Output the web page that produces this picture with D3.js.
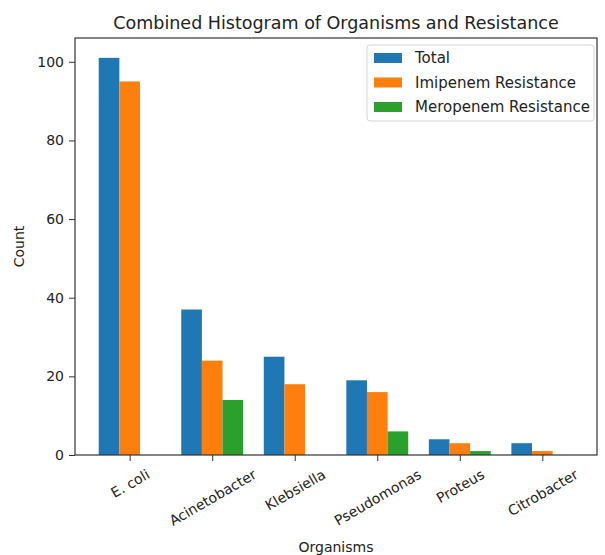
<!DOCTYPE html>
<html><head><meta charset="utf-8">
<script src="https://cdn.jsdelivr.net/npm/d3@7"></script>
<style>body{margin:0;background:#fff}text{font-family:"DejaVu Sans",sans-serif;fill:#222}</style>
</head><body>
<svg id="c" width="605" height="555"></svg>
<script>
const organisms = ["E. coli","Acinetobacter","Klebsiella","Pseudomonas","Proteus","Citrobacter"];
const totalCounts = [101,37,25,19,4,3];
const imipenemCounts = [95,24,18,16,3,1];
const meropenemCounts = [0,14,0,6,1,0];
const seriesNames = ["Total","Imipenem Resistance","Meropenem Resistance"];
const seriesColors = ["#1f77b4","#ff7f0e","#2ca02c"];
const yTicks = [0,20,40,60,80,100];

const series = [totalCounts, imipenemCounts, meropenemCounts];
const svg = d3.select("#c");
const L = 75, R = 597, T = 38, B = 455;
const barW = 0.25;
const x = d3.scaleLinear().domain([-0.6625, 5.6625]).range([L, R]);
const y = d3.scaleLinear().domain([0, 106.05]).range([B, T]);

// bars
series.forEach((vals, k) => {
  const off = (k - 1) * barW;
  svg.append("g").selectAll("rect").data(vals).join("rect")
    .attr("x", (d, i) => x(i + off - barW / 2))
    .attr("width", (d, i) => x(i + off + barW / 2) - x(i + off - barW / 2))
    .attr("y", d => y(d))
    .attr("height", d => y(0) - y(d))
    .attr("fill", seriesColors[k]);
});

// y axis
const ya = svg.append("g").attr("transform", `translate(${L},0)`)
  .call(d3.axisLeft(y).tickValues(yTicks).tickSize(6).tickPadding(5));
ya.select(".domain").remove();
ya.selectAll("text").style("font-size", "14px").style("font-family", "DejaVu Sans").attr("fill", "#222");
ya.selectAll("line").attr("stroke", "#333");

// x axis
const xa = svg.append("g").attr("transform", `translate(0,${B})`)
  .call(d3.axisBottom(x).tickValues(d3.range(organisms.length)).tickFormat(i => organisms[i]).tickSize(6));
xa.select(".domain").remove();
xa.selectAll("line").attr("stroke", "#333");
const fs = 14, ang = 30 * Math.PI / 180;
xa.selectAll("text").style("font-size", fs + "px").style("font-family", "DejaVu Sans").attr("fill", "#222")
  .attr("dy", null).attr("y", null)
  .attr("dominant-baseline", "central").attr("text-anchor", "middle")
  .each(function(d) {
    const w = this.getComputedTextLength();
    const h = fs * 1.16;
    const H = w * Math.sin(ang) + h * Math.cos(ang);
    const cy = 11 + H / 2;
    d3.select(this).attr("transform", `translate(0,${cy}) rotate(-30)`);
  });

// frame
svg.append("rect").attr("x", L).attr("y", T).attr("width", R - L).attr("height", B - T)
  .attr("fill", "none").attr("stroke", "#333").attr("stroke-width", 1.2);

// title and labels
svg.append("text").attr("x", (L + R) / 2).attr("y", 29).attr("text-anchor", "middle")
  .style("font-size", "17.5px").text("Combined Histogram of Organisms and Resistance");
svg.append("text").attr("x", (L + R) / 2).attr("y", 552).attr("text-anchor", "middle")
  .style("font-size", "14px").text("Organisms");
svg.append("text").attr("transform", `translate(24,${(T + B) / 2}) rotate(-90)`).attr("text-anchor", "middle")
  .style("font-size", "14px").text("Count");

// legend
const lg = svg.append("g");
lg.append("rect").attr("x", 367).attr("y", 45).attr("width", 227).attr("height", 76).attr("rx", 3)
  .attr("fill", "#fff").attr("fill-opacity", 0.85).attr("stroke", "#d6d6d6");
seriesNames.forEach((n, k) => {
  const cy = 58 + k * 24.5;
  lg.append("rect").attr("x", 374).attr("y", cy - 5).attr("width", 28).attr("height", 10).attr("fill", seriesColors[k]);
  lg.append("text").attr("x", 415).attr("y", cy).attr("dominant-baseline", "central")
    .style("font-size", "15px").text(n);
});
</script>
</body></html>
